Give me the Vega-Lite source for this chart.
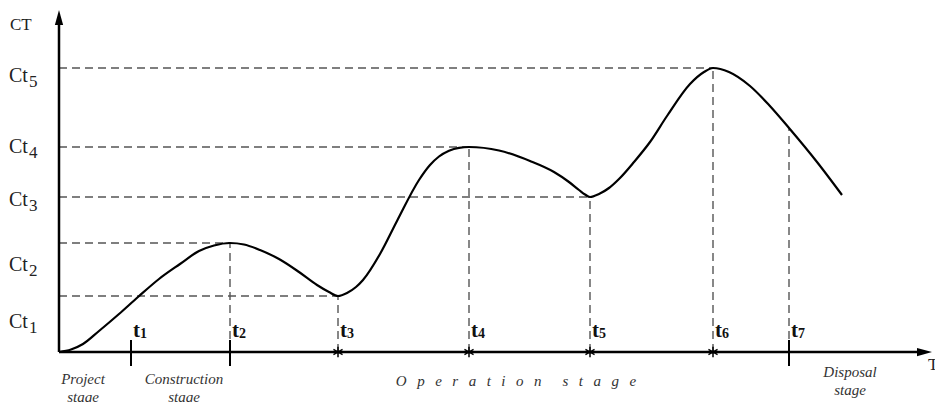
{
  "$schema": "https://vega.github.io/schema/vega-lite/v6.json",
  "width": 935,
  "height": 402,
  "autosize": "none",
  "padding": 0,
  "background": "white",
  "config": {"view": {"stroke": null}},
  "datasets": {
    "curve": [
      {"t": 0, "ct": 0}, {"t": 12, "ct": 2.5}, {"t": 24, "ct": 8}, {"t": 40, "ct": 21},
      {"t": 60, "ct": 38}, {"t": 79, "ct": 55}, {"t": 100, "ct": 73}, {"t": 121, "ct": 88},
      {"t": 140, "ct": 101}, {"t": 155, "ct": 106.5}, {"t": 171, "ct": 109},
      {"t": 185, "ct": 107.5}, {"t": 201, "ct": 102}, {"t": 220, "ct": 93}, {"t": 240, "ct": 80},
      {"t": 258, "ct": 67}, {"t": 270, "ct": 60}, {"t": 279, "ct": 56},
      {"t": 288, "ct": 59}, {"t": 297, "ct": 65}, {"t": 304, "ct": 72}, {"t": 321, "ct": 98},
      {"t": 338, "ct": 131}, {"t": 360, "ct": 172}, {"t": 371, "ct": 187}, {"t": 380, "ct": 195.5},
      {"t": 390, "ct": 201.3}, {"t": 400, "ct": 204.2}, {"t": 410, "ct": 205},
      {"t": 440, "ct": 201.5}, {"t": 471, "ct": 191}, {"t": 495, "ct": 180}, {"t": 510, "ct": 170},
      {"t": 520, "ct": 162}, {"t": 526, "ct": 157.5}, {"t": 531, "ct": 155},
      {"t": 540, "ct": 158}, {"t": 550, "ct": 164}, {"t": 560, "ct": 173}, {"t": 575, "ct": 190},
      {"t": 591, "ct": 210}, {"t": 608, "ct": 236}, {"t": 631, "ct": 268}, {"t": 645, "ct": 280},
      {"t": 654, "ct": 284}, {"t": 670, "ct": 280}, {"t": 691, "ct": 266}, {"t": 710, "ct": 247},
      {"t": 730, "ct": 224}, {"t": 758, "ct": 190}, {"t": 783, "ct": 157}
    ],
    "events": [
      {"t": 72, "sub": "1", "boundary": true, "origin": 0, "cost": null, "level": false},
      {"t": 171, "sub": "2", "boundary": true, "origin": 0, "cost": 109, "level": true},
      {"t": 279, "sub": "3", "boundary": false, "origin": 0, "cost": 56, "level": true},
      {"t": 410, "sub": "4", "boundary": false, "origin": 0, "cost": 205, "level": true},
      {"t": 531, "sub": "5", "boundary": false, "origin": 0, "cost": 155, "level": true},
      {"t": 654, "sub": "6", "boundary": false, "origin": 0, "cost": 284, "level": true},
      {"t": 730, "sub": "7", "boundary": true, "origin": 0, "cost": 224, "level": false}
    ],
    "axes": [
      {"axis": "T", "t": 0, "t2": 862, "c": 0, "c2": 0},
      {"axis": "CT", "t": 0, "t2": 0, "c": 0, "c2": 331}
    ],
    "ctlabels": [
      {"sub": "5", "y": 276},
      {"sub": "4", "y": 205},
      {"sub": "3", "y": 152},
      {"sub": "2", "y": 87},
      {"sub": "1", "y": 30}
    ],
    "stages": [
      {"stage": "Project\nstage", "x": 24, "y": -20},
      {"stage": "Construction\nstage", "x": 125, "y": -20},
      {"stage": "O\u2002\u2009p\u2002\u2009e\u2002\u2009r\u2002\u2009a\u2002\u2009t\u2002\u2009i\u2002\u2009o\u2002\u2009n\u2002\u2009\u2002\u2009s\u2002\u2009t\u2002\u2009a\u2002\u2009g\u2002\u2009e", "x": 457, "y": -22},
      {"stage": "Disposal\nstage", "x": 791, "y": -13}
    ]
  },
  "layer": [
    {
      "data": {"name": "events"},
      "transform": [{"filter": "datum.level"}],
      "mark": {"type": "rule", "stroke": "#555", "strokeWidth": 1.4, "strokeDash": [8, 5]},
      "encoding": {
        "x": {"field": "origin", "type": "quantitative", "scale": {"domain": [-59, 876], "nice": false}, "axis": null},
        "x2": {"field": "t"},
        "y": {"field": "cost", "type": "quantitative", "scale": {"domain": [-50, 352], "nice": false}, "axis": null}
      }
    },
    {
      "data": {"name": "events"},
      "transform": [{"filter": "isValid(datum.cost)"}],
      "mark": {"type": "rule", "stroke": "#555", "strokeWidth": 1.4, "strokeDash": [8, 5]},
      "encoding": {
        "x": {"field": "t", "type": "quantitative", "scale": {"domain": [-59, 876], "nice": false}, "axis": null},
        "y": {"field": "origin", "type": "quantitative", "scale": {"domain": [-50, 352], "nice": false}, "axis": null},
        "y2": {"field": "cost"}
      }
    },
    {
      "data": {"name": "curve"},
      "mark": {"type": "line", "interpolate": "monotone", "stroke": "#000", "strokeWidth": 2.2},
      "encoding": {
        "x": {"field": "t", "type": "quantitative", "scale": {"domain": [-59, 876], "nice": false}, "axis": null},
        "y": {"field": "ct", "type": "quantitative", "scale": {"domain": [-50, 352], "nice": false}, "axis": null}
      }
    },
    {
      "data": {"name": "axes"},
      "mark": {"type": "rule", "stroke": "#000", "strokeWidth": 2.5},
      "encoding": {
        "x": {"field": "t", "type": "quantitative", "scale": {"domain": [-59, 876], "nice": false}, "axis": null},
        "x2": {"field": "t2"},
        "y": {"field": "c", "type": "quantitative", "scale": {"domain": [-50, 352], "nice": false}, "axis": null},
        "y2": {"field": "c2"}
      }
    },
    {
      "data": {"values": [{}]},
      "mark": {"type": "point", "shape": "M0,-1L0.55,1L-0.55,1Z", "filled": true, "fill": "#000", "strokeWidth": 0, "size": 225, "opacity": 1},
      "encoding": {
        "x": {"datum": 0, "type": "quantitative", "scale": {"domain": [-59, 876], "nice": false}, "axis": null},
        "y": {"datum": 334.5, "type": "quantitative", "scale": {"domain": [-50, 352], "nice": false}, "axis": null}
      }
    },
    {
      "data": {"values": [{}]},
      "mark": {"type": "point", "shape": "M1,0L-1,0.55L-1,-0.55Z", "filled": true, "fill": "#000", "strokeWidth": 0, "size": 225, "opacity": 1},
      "encoding": {
        "x": {"datum": 865.5, "type": "quantitative", "scale": {"domain": [-59, 876], "nice": false}, "axis": null},
        "y": {"datum": 0, "type": "quantitative", "scale": {"domain": [-50, 352], "nice": false}, "axis": null}
      }
    },
    {
      "data": {"name": "events"},
      "transform": [{"filter": "datum.boundary"}],
      "mark": {"type": "point", "shape": "M0,-1L0,1", "filled": false, "stroke": "#000", "strokeWidth": 2, "size": 676, "opacity": 1},
      "encoding": {
        "x": {"field": "t", "type": "quantitative", "scale": {"domain": [-59, 876], "nice": false}, "axis": null},
        "y": {"datum": -1, "type": "quantitative", "scale": {"domain": [-50, 352], "nice": false}, "axis": null}
      }
    },
    {
      "data": {"name": "events"},
      "transform": [{"filter": "!datum.boundary"}],
      "mark": {"type": "point", "shape": "M0,-1L0,1M-0.87,-0.5L0.87,0.5M-0.87,0.5L0.87,-0.5", "filled": false, "stroke": "#000", "strokeWidth": 1.5, "size": 110, "opacity": 1},
      "encoding": {
        "x": {"field": "t", "type": "quantitative", "scale": {"domain": [-59, 876], "nice": false}, "axis": null},
        "y": {"datum": 0, "type": "quantitative", "scale": {"domain": [-50, 352], "nice": false}, "axis": null}
      }
    },
    {
      "data": {"name": "events"},
      "mark": {"type": "text", "text": "t", "align": "left", "baseline": "middle", "dx": 2, "font": "Liberation Serif", "fontWeight": "bold", "fontSize": 21, "fill": "#111"},
      "encoding": {
        "x": {"field": "t", "type": "quantitative", "scale": {"domain": [-59, 876], "nice": false}, "axis": null},
        "y": {"datum": 21, "type": "quantitative", "scale": {"domain": [-50, 352], "nice": false}, "axis": null}
      }
    },
    {
      "data": {"name": "events"},
      "mark": {"type": "text", "align": "left", "baseline": "middle", "dx": 9, "dy": 3, "font": "Liberation Serif", "fontWeight": "bold", "fontSize": 14, "fill": "#111"},
      "encoding": {
        "x": {"field": "t", "type": "quantitative", "scale": {"domain": [-59, 876], "nice": false}, "axis": null},
        "y": {"datum": 21, "type": "quantitative", "scale": {"domain": [-50, 352], "nice": false}, "axis": null},
        "text": {"field": "sub"}
      }
    },
    {
      "data": {"name": "ctlabels"},
      "mark": {"type": "text", "text": "Ct", "align": "left", "baseline": "middle", "font": "Liberation Serif", "fontSize": 20, "fill": "#222"},
      "encoding": {
        "x": {"datum": -50, "type": "quantitative", "scale": {"domain": [-59, 876], "nice": false}, "axis": null},
        "y": {"field": "y", "type": "quantitative", "scale": {"domain": [-50, 352], "nice": false}, "axis": null}
      }
    },
    {
      "data": {"name": "ctlabels"},
      "mark": {"type": "text", "align": "left", "baseline": "middle", "dx": 20, "dy": 6, "font": "Liberation Serif", "fontSize": 17, "fill": "#222"},
      "encoding": {
        "x": {"datum": -50, "type": "quantitative", "scale": {"domain": [-59, 876], "nice": false}, "axis": null},
        "y": {"field": "y", "type": "quantitative", "scale": {"domain": [-50, 352], "nice": false}, "axis": null},
        "text": {"field": "sub"}
      }
    },
    {
      "data": {"values": [{"label": "CT"}]},
      "mark": {"type": "text", "align": "left", "baseline": "middle", "font": "Liberation Serif", "fontSize": 17, "fill": "#222"},
      "encoding": {
        "x": {"datum": -49, "type": "quantitative", "scale": {"domain": [-59, 876], "nice": false}, "axis": null},
        "y": {"datum": 327, "type": "quantitative", "scale": {"domain": [-50, 352], "nice": false}, "axis": null},
        "text": {"field": "label"}
      }
    },
    {
      "data": {"values": [{"label": "T"}]},
      "mark": {"type": "text", "align": "left", "baseline": "middle", "font": "Liberation Serif", "fontSize": 17, "fill": "#222"},
      "encoding": {
        "x": {"datum": 869, "type": "quantitative", "scale": {"domain": [-59, 876], "nice": false}, "axis": null},
        "y": {"datum": -13, "type": "quantitative", "scale": {"domain": [-50, 352], "nice": false}, "axis": null},
        "text": {"field": "label"}
      }
    },
    {
      "data": {"name": "stages"},
      "mark": {"type": "text", "align": "center", "baseline": "top", "lineBreak": "\n", "lineHeight": 18, "font": "Liberation Serif", "fontStyle": "italic", "fontSize": 15, "fill": "#333"},
      "encoding": {
        "x": {"field": "x", "type": "quantitative", "scale": {"domain": [-59, 876], "nice": false}, "axis": null},
        "y": {"field": "y", "type": "quantitative", "scale": {"domain": [-50, 352], "nice": false}, "axis": null},
        "text": {"field": "stage"}
      }
    }
  ]
}
